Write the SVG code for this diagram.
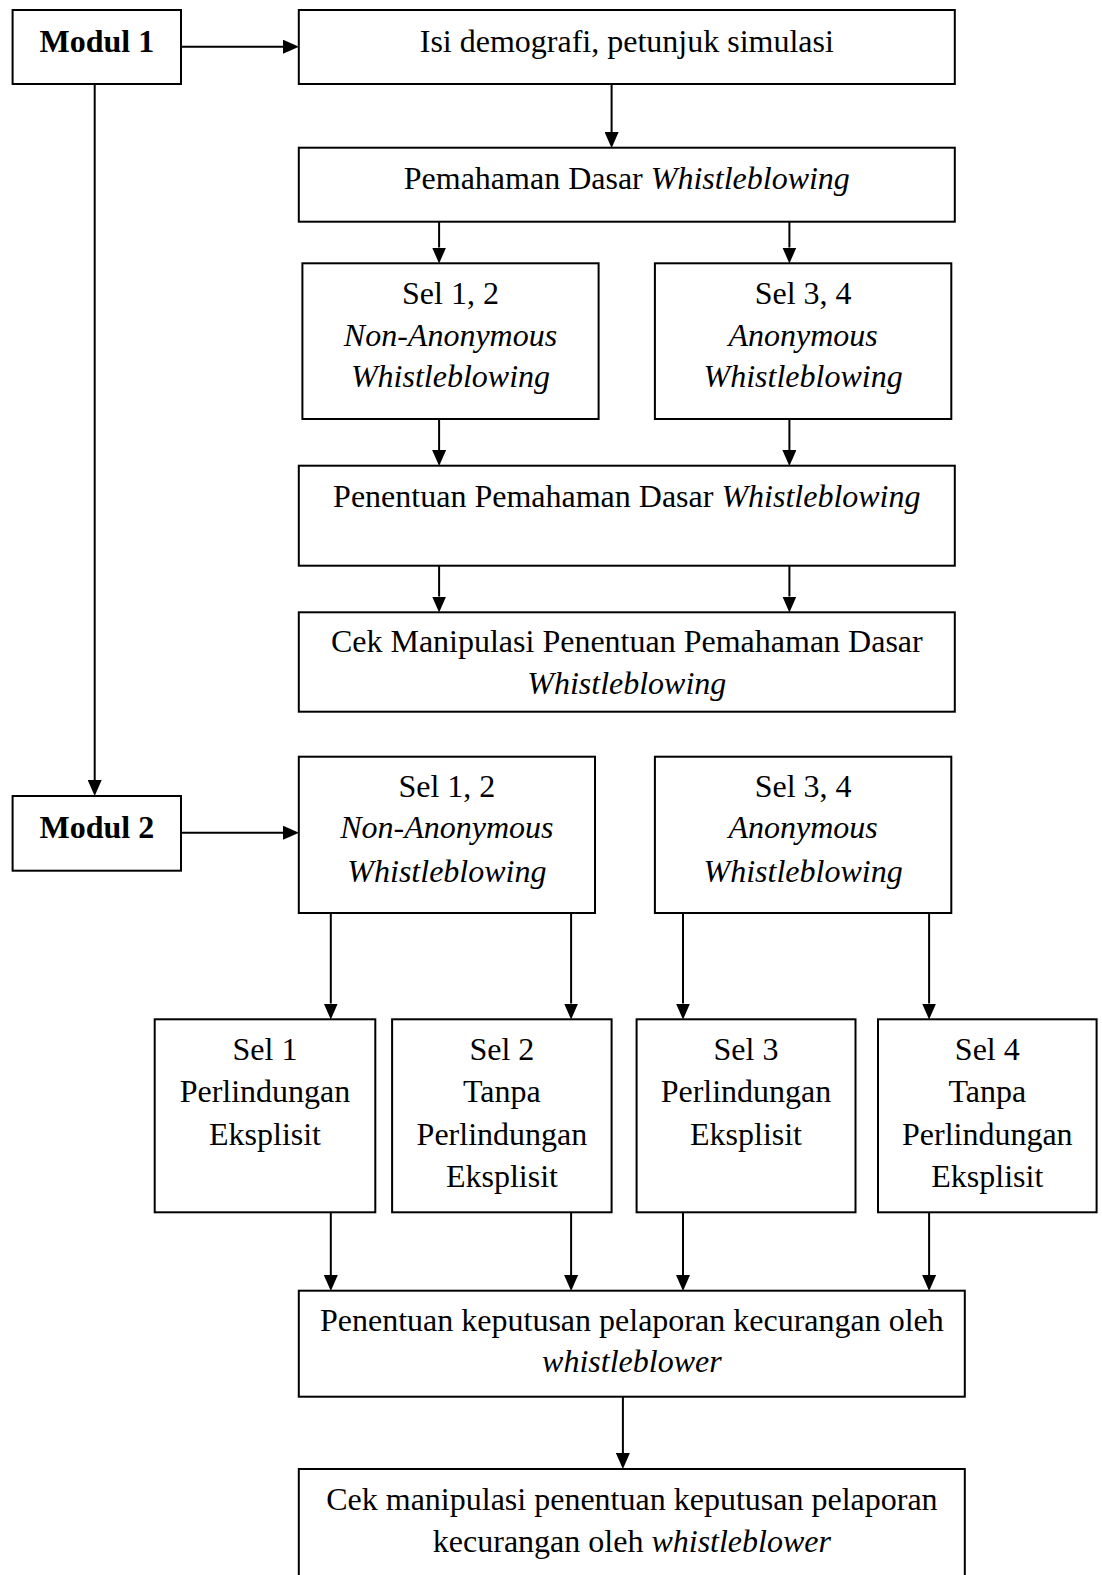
<svg xmlns="http://www.w3.org/2000/svg" width="1102" height="1575" viewBox="0 0 1102 1575">
<defs>
<style>
.box{fill:#fff;stroke:#000;stroke-width:2}
.t{font-family:"Liberation Serif","Times New Roman",serif;font-size:32px;fill:#000;text-anchor:middle}
.b{font-weight:bold}
.i{font-style:italic}
.c{fill:none;stroke:#000;stroke-width:2}
</style>
<marker id="ah" markerUnits="userSpaceOnUse" markerWidth="16" markerHeight="14" refX="0" refY="7" orient="auto" viewBox="0 0 16 14">
<path d="M0,0 L16,7 L0,14 Z" fill="#000"/>
</marker>
</defs>
<rect width="1102" height="1575" fill="#fff"/>
<g id="connectors">
<path class="c" d="M181,46.7 H283" marker-end="url(#ah)"/>
<path class="c" d="M94.7,84 V780" marker-end="url(#ah)"/>
<path class="c" d="M611.6,84 V132" marker-end="url(#ah)"/>
<path class="c" d="M439.1,221.7 V247.5" marker-end="url(#ah)"/>
<path class="c" d="M789.4,221.7 V247.5" marker-end="url(#ah)"/>
<path class="c" d="M439.1,419 V450" marker-end="url(#ah)"/>
<path class="c" d="M789.4,419 V450" marker-end="url(#ah)"/>
<path class="c" d="M439.1,565.7 V596.5" marker-end="url(#ah)"/>
<path class="c" d="M789.4,565.7 V596.5" marker-end="url(#ah)"/>
<path class="c" d="M181,832.7 H283" marker-end="url(#ah)"/>
<path class="c" d="M330.8,913 V1003.5" marker-end="url(#ah)"/>
<path class="c" d="M571.1,913 V1003.5" marker-end="url(#ah)"/>
<path class="c" d="M683,913 V1003.5" marker-end="url(#ah)"/>
<path class="c" d="M929.1,913 V1003.5" marker-end="url(#ah)"/>
<path class="c" d="M330.8,1212.3 V1275" marker-end="url(#ah)"/>
<path class="c" d="M571.1,1212.3 V1275" marker-end="url(#ah)"/>
<path class="c" d="M683,1212.3 V1275" marker-end="url(#ah)"/>
<path class="c" d="M929.1,1212.3 V1275" marker-end="url(#ah)"/>
<path class="c" d="M622.9,1396.7 V1453" marker-end="url(#ah)"/>
</g>
<g id="modul1">
<rect class="box" x="12.6" y="10" width="168.4" height="74"/>
<text class="t b" x="96.8" y="52">Modul 1</text>
</g>
<g id="demografi">
<rect class="box" x="298.8" y="10" width="656" height="74"/>
<text class="t" x="626.8" y="52">Isi demografi, petunjuk simulasi</text>
</g>
<g id="pemahaman">
<rect class="box" x="298.8" y="147.7" width="656" height="74"/>
<text class="t" x="626.8" y="189.3">Pemahaman Dasar <tspan class="i">Whistleblowing</tspan></text>
</g>
<g id="sel12a">
<rect class="box" x="302.4" y="263.3" width="296.2" height="155.7"/>
<text class="t" x="450.5" y="304">Sel 1, 2</text>
<text class="t i" x="450.5" y="345.5">Non-Anonymous</text>
<text class="t i" x="450.5" y="387">Whistleblowing</text>
</g>
<g id="sel34a">
<rect class="box" x="654.9" y="263.3" width="296.4" height="155.7"/>
<text class="t" x="803.1" y="304">Sel 3, 4</text>
<text class="t i" x="803.1" y="345.5">Anonymous</text>
<text class="t i" x="803.1" y="387">Whistleblowing</text>
</g>
<g id="penentuan">
<rect class="box" x="298.8" y="465.7" width="656" height="100"/>
<text class="t" x="626.8" y="507.3">Penentuan Pemahaman Dasar <tspan class="i">Whistleblowing</tspan></text>
</g>
<g id="cekmanipulasi">
<rect class="box" x="298.8" y="612.3" width="656" height="99.4"/>
<text class="t" x="626.8" y="652.3">Cek Manipulasi Penentuan Pemahaman Dasar</text>
<text class="t i" x="626.8" y="694">Whistleblowing</text>
</g>
<g id="modul2">
<rect class="box" x="12.6" y="796" width="168.4" height="74.7"/>
<text class="t b" x="96.8" y="837.7">Modul 2</text>
</g>
<g id="sel12b">
<rect class="box" x="298.8" y="756.7" width="296.2" height="156.3"/>
<text class="t" x="446.9" y="796.7">Sel 1, 2</text>
<text class="t i" x="446.9" y="838.3">Non-Anonymous</text>
<text class="t i" x="446.9" y="881.7">Whistleblowing</text>
</g>
<g id="sel34b">
<rect class="box" x="654.9" y="756.7" width="296.4" height="156.3"/>
<text class="t" x="803.1" y="796.7">Sel 3, 4</text>
<text class="t i" x="803.1" y="838.3">Anonymous</text>
<text class="t i" x="803.1" y="881.7">Whistleblowing</text>
</g>
<g id="sel1">
<rect class="box" x="154.7" y="1019.3" width="220.6" height="193"/>
<text class="t" x="265" y="1060">Sel 1</text>
<text class="t" x="265" y="1102">Perlindungan</text>
<text class="t" x="265" y="1145">Eksplisit</text>
</g>
<g id="sel2">
<rect class="box" x="392.1" y="1019.3" width="219.5" height="193"/>
<text class="t" x="501.9" y="1060">Sel 2</text>
<text class="t" x="501.9" y="1102">Tanpa</text>
<text class="t" x="501.9" y="1145">Perlindungan</text>
<text class="t" x="501.9" y="1187">Eksplisit</text>
</g>
<g id="sel3">
<rect class="box" x="636.6" y="1019.3" width="218.9" height="193"/>
<text class="t" x="746" y="1060">Sel 3</text>
<text class="t" x="746" y="1102">Perlindungan</text>
<text class="t" x="746" y="1145">Eksplisit</text>
</g>
<g id="sel4">
<rect class="box" x="878" y="1019.3" width="218.6" height="193"/>
<text class="t" x="987.3" y="1060">Sel 4</text>
<text class="t" x="987.3" y="1102">Tanpa</text>
<text class="t" x="987.3" y="1145">Perlindungan</text>
<text class="t" x="987.3" y="1187">Eksplisit</text>
</g>
<g id="keputusan">
<rect class="box" x="298.8" y="1290.7" width="666" height="106"/>
<text class="t" x="631.9" y="1331">Penentuan keputusan pelaporan kecurangan oleh</text>
<text class="t i" x="631.9" y="1372">whistleblower</text>
</g>
<g id="cekkeputusan">
<rect class="box" x="298.8" y="1469" width="666" height="112"/>
<text class="t" x="631.9" y="1510">Cek manipulasi penentuan keputusan pelaporan</text>
<text class="t" x="631.9" y="1552">kecurangan oleh <tspan class="i">whistleblower</tspan></text>
</g>
</svg>
